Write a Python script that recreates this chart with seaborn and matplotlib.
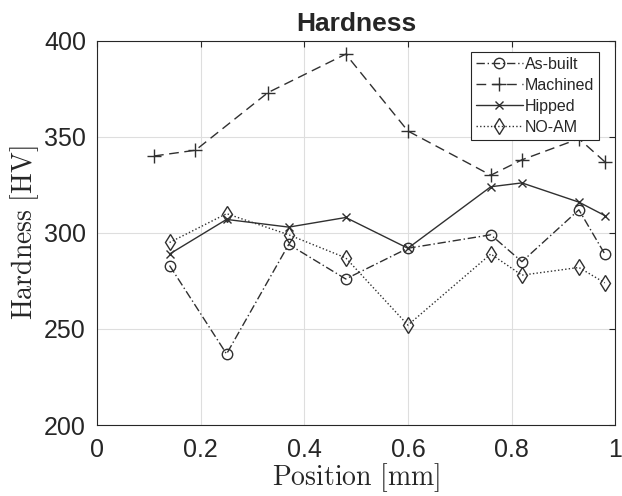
import matplotlib
matplotlib.use("Agg")
import matplotlib.pyplot as plt
import seaborn as sns
import pandas as pd

pos_common = [0.14, 0.25, 0.37, 0.48, 0.60, 0.76, 0.82, 0.93, 0.98]
pos_machined = [0.11, 0.19, 0.33, 0.48, 0.60, 0.76, 0.82, 0.93, 0.98]
as_built = [283, 237, 294, 276, 292, 299, 285, 312, 289]
machined = [340, 343, 373, 393, 353, 330, 338, 349, 337]
hipped = [289, 307, 303, 308, 292, 324, 326, 316, 309]
no_am = [295, 310, 299, 287, 252, 289, 278, 282, 274]

series_names = ["As-built", "Machined", "Hipped", "NO-AM"]
x_ticks = [0, 0.2, 0.4, 0.6, 0.8, 1]
y_ticks = [200, 250, 300, 350, 400]

sns.set_style("white")
plt.rcParams["font.family"] = ["Liberation Sans", "DejaVu Sans"]
plt.rcParams["mathtext.fontset"] = "cm"

fig = plt.figure(figsize=(6.22, 4.96), dpi=100)
ax = fig.add_axes([0.156, 0.143, 0.833, 0.775])

data = [
    (pos_common, as_built, series_names[0], "o", (0, (6, 2, 1, 2)), 7.5),
    (pos_machined, machined, series_names[1], "+", (0, (7, 4)), 10),
    (pos_common, hipped, series_names[2], "x", "-", 6),
    (pos_common, no_am, series_names[3], "d", (0, (1, 1.6)), 8),
]
col = "#303030"
for xs, ys, name, mk, ls, ms in data:
    df = pd.DataFrame({"x": xs, "y": ys})
    sns.lineplot(data=df, x="x", y="y", ax=ax, sort=False, color=col,
                 linewidth=1.0, linestyle=ls, marker=mk, markersize=ms,
                 markerfacecolor="none", markeredgecolor=col,
                 markeredgewidth=1.0, label=name)

ax.set_xlim(0, 1)
ax.set_ylim(200, 400)
ax.set_xticks(x_ticks)
ax.set_xticklabels(["0", "0.2", "0.4", "0.6", "0.8", "1"])
ax.set_yticks(y_ticks)
ax.grid(True, color="#dedede", linewidth=0.8)
ax.tick_params(direction="in", top=True, right=True, length=4, width=0.8,
               labelsize=18, colors="#262626")
ax.tick_params(axis="x", pad=9)
ax.tick_params(axis="y", pad=8)
for s in ax.spines.values():
    s.set_color("#262626")
    s.set_linewidth(0.8)

ax.set_xlabel(r"$\mathrm{Position\ [mm]}$", fontsize=20, color="#262626", labelpad=0)
ax.set_ylabel(r"$\mathrm{Hardness\ [HV]}$", fontsize=20, color="#262626", labelpad=2)
ax.set_title("Hardness", fontsize=19, fontweight="bold", pad=7)

leg = ax.legend(loc="upper right", bbox_to_anchor=(0.969, 0.971), fontsize=11.5,
                frameon=True, fancybox=False, framealpha=1, edgecolor="#262626",
                handlelength=2.9, handletextpad=0.15, borderpad=0.3,
                labelspacing=0.38, borderaxespad=0)
leg.get_frame().set_linewidth(0.8)

fig.savefig("out.png", dpi=100)
